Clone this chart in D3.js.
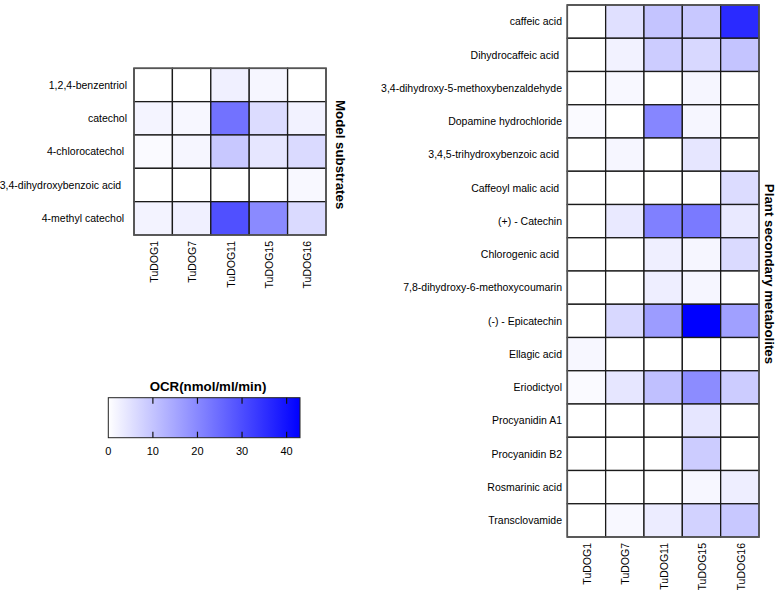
<!DOCTYPE html>
<html><head><meta charset="utf-8">
<script src="https://cdn.jsdelivr.net/npm/d3@7"></script>
<style>body{margin:0;background:#fff}text{font-family:"Liberation Sans",Arial,sans-serif;fill:#000;white-space:pre}</style>
</head><body><svg id="c" width="780" height="590"></svg>
<script>
const enzymes = ["TuDOG1","TuDOG7","TuDOG11","TuDOG15","TuDOG16"];
const modelSubstrates = ["1,2,4-benzentriol","catechol","4-chlorocatechol ","3,4-dihydroxybenzoic acid  ","4-methyl catechol "];
const modelValues = [
  [0, 0, 2.5, 1.5, 0],
  [1.8, 1.3, 23.8, 5.9, 2.2],
  [0.8, 1.6, 9.3, 4.2, 6.2],
  [0, 0, 0, 0, 1.1],
  [2.0, 2.6, 29.5, 19.7, 6.2]
];
const plantMetabolites = ["caffeic acid","Dihydrocaffeic acid ","3,4-dihydroxy-5-methoxybenzaldehyde","Dopamine hydrochloride","3,4,5-trihydroxybenzoic acid ","Caffeoyl malic acid ","(+) - Catechin","Chlorogenic acid ","7,8-dihydroxy-6-methoxycoumarin","(-) - Epicatechin","Ellagic acid","Eriodictyol","Procyanidin A1","Procyanidin B2","Rosmarinic acid","Transclovamide"];
const plantValues = [
  [0, 5.2, 9.9, 9.3, 35.9],
  [0, 2.2, 8.6, 6.6, 9.9],
  [0, 1.1, 0, 1.5, 0],
  [0.9, 0, 20.4, 1.5, 0],
  [0, 1.6, 0, 4.2, 0],
  [0, 0, 0, 0, 5.9],
  [0, 3.7, 21.4, 22.4, 3.7],
  [0, 0, 2.7, 1.6, 6.2],
  [0, 0, 2.9, 1.6, 0],
  [0, 6.6, 16.7, 43, 16.0],
  [1.3, 0, 0, 0, 0],
  [0.8, 4.2, 10.6, 19.4, 8.6],
  [0, 0, 0, 4.2, 0],
  [0, 0, 0, 8.6, 0],
  [0, 0, 0, 1.3, 2.9],
  [0, 1.1, 3.2, 7.6, 9.3]
];
const legendTicks = [0, 10, 20, 30, 40];
const legendMax = 43;

const svg = d3.select("#c");
const color = d3.scaleLinear().domain([0, legendMax]).range(["#ffffff", "#0000ff"]).clamp(true);

function heatmap(rows, values, x0, x1, y0, y1, labelX, title, titleX) {
  const g = svg.append("g");
  const x = d3.scaleBand().domain(enzymes).range([x0, x1]);
  const y = d3.scaleBand().domain(rows).range([y0, y1]);
  const cells = [];
  rows.forEach((r, i) => enzymes.forEach((e, j) => cells.push({r, e, v: values[i][j]})));
  g.selectAll("rect.cell").data(cells).join("rect")
    .attr("x", d => x(d.e)).attr("y", d => y(d.r))
    .attr("width", x.bandwidth()).attr("height", y.bandwidth())
    .attr("fill", d => color(d.v)).attr("stroke", "#1a1a1a").attr("stroke-width", 1.3);
  g.append("rect").attr("x", x0).attr("y", y0).attr("width", x1 - x0).attr("height", y1 - y0)
    .attr("fill", "none").attr("stroke", "#555").attr("stroke-width", 1.6);
  g.selectAll("text.row").data(rows).join("text")
    .attr("x", labelX).attr("y", d => y(d) + y.bandwidth() / 2).attr("dy", "0.35em")
    .attr("text-anchor", "end").attr("font-size", "10.5px").text(d => d);
  g.selectAll("text.col").data(enzymes).join("text")
    .attr("transform", d => `translate(${x(d) + x.bandwidth() / 2 + 1},${y1 + 6}) rotate(-90)`)
    .attr("dy", "0.35em").attr("text-anchor", "end").attr("font-size", "10.5px").text(d => d);
  g.append("text")
    .attr("transform", `translate(${titleX},${(y0 + y1) / 2 + 3}) rotate(90)`)
    .attr("dy", "0.35em").attr("text-anchor", "middle")
    .attr("font-size", "13.3px").attr("font-weight", "bold").text(title);
}

heatmap(modelSubstrates, modelValues, 134, 326, 68.3, 235, 127, "Model substrates", 341);
heatmap(plantMetabolites, plantValues, 567.3, 759, 5, 537, 562, "Plant secondary metabolites", 770);

// legend
const lx0 = 108.3, lx1 = 300, ly0 = 397.7, ly1 = 437.7;
const defs = svg.append("defs");
const grad = defs.append("linearGradient").attr("id", "lg").attr("x1", "0%").attr("x2", "100%");
grad.append("stop").attr("offset", "0%").attr("stop-color", color(0));
grad.append("stop").attr("offset", "100%").attr("stop-color", color(legendMax));
svg.append("rect").attr("x", lx0).attr("y", ly0).attr("width", lx1 - lx0).attr("height", ly1 - ly0)
  .attr("fill", "url(#lg)").attr("stroke", "#222").attr("stroke-width", 1);
const lscale = d3.scaleLinear().domain([0, legendMax]).range([lx0, lx1]);
const tg = svg.append("g");
tg.selectAll("line.t").data(legendTicks.filter(t => t > 0)).join("line")
  .attr("x1", d => lscale(d)).attr("x2", d => lscale(d)).attr("y1", ly0).attr("y2", ly0 + 6)
  .attr("stroke", "#111").attr("stroke-width", 1.2);
tg.selectAll("line.b").data(legendTicks.filter(t => t > 0)).join("line")
  .attr("x1", d => lscale(d)).attr("x2", d => lscale(d)).attr("y1", ly1 - 6).attr("y2", ly1)
  .attr("stroke", "#111").attr("stroke-width", 1.2);
tg.selectAll("text").data(legendTicks).join("text")
  .attr("x", d => lscale(d)).attr("y", 455).attr("text-anchor", "middle")
  .attr("font-size", "11px").text(d => d);
svg.append("text").attr("x", 208).attr("y", 391).attr("text-anchor", "middle")
  .attr("font-size", "13.3px").attr("font-weight", "bold").text("OCR(nmol/ml/min)");
</script></body></html>
